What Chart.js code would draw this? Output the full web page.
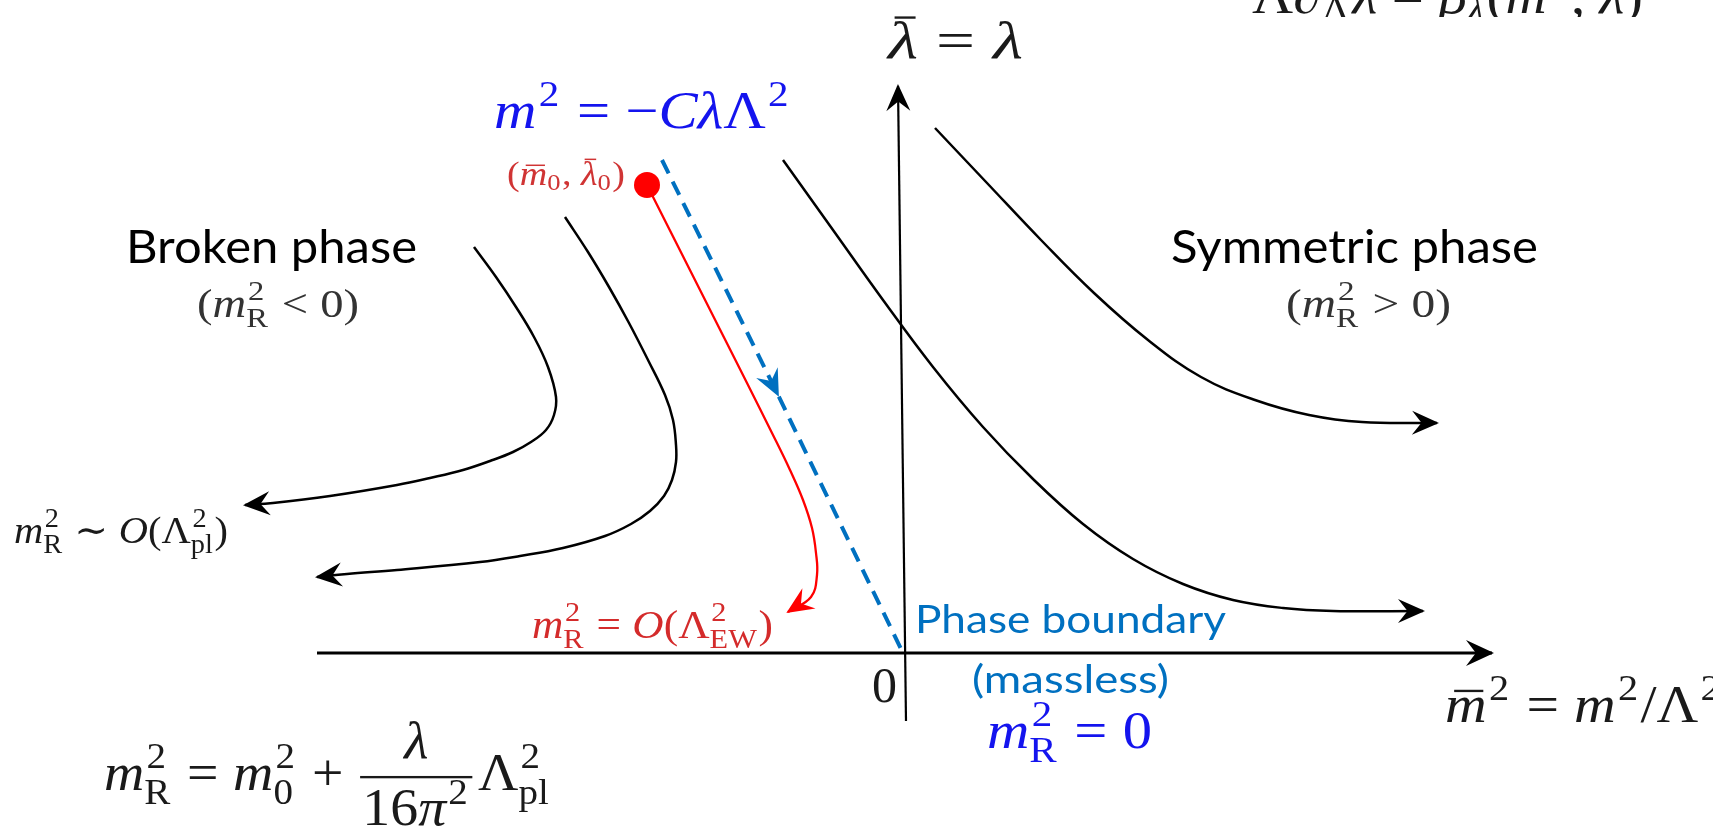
<!DOCTYPE html>
<html lang="en">
<head>
<meta charset="UTF-8">
<title>Phase diagram flow</title>
<script src="https://cdn.jsdelivr.net/npm/chart.js@4"></script>
<style>
  html, body { margin: 0; padding: 0; background: #fff; overflow: hidden; }
</style>
</head>
<body>
<canvas id="c" width="1713" height="826"></canvas>
<script>
// plot window (x = m̄², y = λ̄), origin where the two axes meet
const xRange = [-9.05, 8.08];
const yRange = [-1.73, 6.53];

// axes
const hAxis = [{x: -5.88, y: 0}, {x: 5.87, y: 0}];
const vAxis = [{x: 0.01, y: -0.68}, {x: -0.07, y: 5.67}];

// broken phase flows (bend over and run off to the left)
const flowA = [
  {x: -4.31, y: 4.06}, {x: -4.09, y: 3.76}, {x: -3.89, y: 3.46}, {x: -3.71, y: 3.16},
  {x: -3.57, y: 2.86}, {x: -3.49, y: 2.56}, {x: -3.51, y: 2.38}, {x: -3.59, y: 2.23},
  {x: -3.74, y: 2.11}, {x: -3.92, y: 2.01}, {x: -4.15, y: 1.92}, {x: -4.42, y: 1.83},
  {x: -4.75, y: 1.75}, {x: -5.08, y: 1.68}, {x: -5.75, y: 1.57}, {x: -6.32, y: 1.50},
  {x: -6.60, y: 1.48}
];
const flowB = [
  {x: -3.40, y: 4.36}, {x: -3.17, y: 4.01}, {x: -2.96, y: 3.66}, {x: -2.76, y: 3.30},
  {x: -2.57, y: 2.93}, {x: -2.40, y: 2.58}, {x: -2.32, y: 2.33}, {x: -2.29, y: 2.08},
  {x: -2.29, y: 1.91}, {x: -2.33, y: 1.73}, {x: -2.41, y: 1.57}, {x: -2.55, y: 1.42},
  {x: -2.74, y: 1.29}, {x: -3.00, y: 1.17}, {x: -3.42, y: 1.05}, {x: -3.85, y: 0.97},
  {x: -4.25, y: 0.91}, {x: -5.08, y: 0.83}, {x: -5.58, y: 0.79}, {x: -5.88, y: 0.76}
];

// symmetric phase flows (run off to the right)
const flowC = [
  {x: -1.22, y: 4.93}, {x: -0.72, y: 4.23}, {x: -0.22, y: 3.53}, {x: 0.28, y: 2.86},
  {x: 0.78, y: 2.26}, {x: 1.28, y: 1.74}, {x: 1.78, y: 1.29}, {x: 2.28, y: 0.94},
  {x: 2.78, y: 0.69}, {x: 3.28, y: 0.53}, {x: 3.78, y: 0.45}, {x: 4.28, y: 0.42},
  {x: 5.18, y: 0.42}
];
const flowD = [
  {x: 0.30, y: 5.25}, {x: 0.82, y: 4.70}, {x: 1.36, y: 4.13}, {x: 1.89, y: 3.60},
  {x: 2.43, y: 3.13}, {x: 2.96, y: 2.76}, {x: 3.50, y: 2.53}, {x: 4.04, y: 2.38},
  {x: 4.57, y: 2.31}, {x: 5.32, y: 2.30}
];

// tuned trajectory from the bare point to the EW scale
const startPoint = [{x: -2.58, y: 4.68}];
const tunedFlow = [
  {x: -2.58, y: 4.68}, {x: -2.33, y: 4.185}, {x: -2.08, y: 3.69}, {x: -1.83, y: 3.195},
  {x: -1.58, y: 2.70}, {x: -1.33, y: 2.20}, {x: -1.15, y: 1.83}, {x: -1.02, y: 1.53},
  {x: -0.93, y: 1.25}, {x: -0.89, y: 1.00}, {x: -0.88, y: 0.78}, {x: -0.94, y: 0.56},
  {x: -1.17, y: 0.41}
];

// m² = -CλΛ² line down to the phase boundary (arrow on the middle point)
const criticalLine = [{x: -2.43, y: 4.93}, {x: -1.27, y: 2.58}, {x: -0.02, y: 0.0}];

// ---- math text helpers ----
const MATH = '"Liberation Serif", "DejaVu Serif", serif';
const SANS = 'Lato, "Open Sans", sans-serif';
const I = (t, o) => Object.assign({t: t, it: true}, o);
const R = (t, o) => Object.assign({t: t}, o);
const O = t => ({t: t, op: true});
const S = (sup, sub, subIt) => ({sup: sup, sub: sub, subIt: subIt});
const F = (num, den) => ({num: num, den: den});

const lamEq = [I('λ', {bar: 0.8}), O('='), I('λ')];
const cLine = [I('m'), S('2'), O('='), R('−'), I('C'), I('λ'), R('Λ'), S('2')];
const bare = [R('('), I('m', {bar: 0.62}), S(null, '0'), R(','), R(' '), I('λ', {bar: 0.8}), S(null, '0'), R(')')];
const brokenCond = [R('('), I('m'), S('2', 'R'), O('<'), R('0'), R(')')];
const symCond = [R('('), I('m'), S('2', 'R'), O('>'), R('0'), R(')')];
const planck = [I('m'), S('2', 'R'), O('∼'), I('O'), R('('), R('Λ'), S('2', 'pl'), R(')')];
const ewScale = [I('m'), S('2', 'R'), O('='), I('O'), R('('), R('Λ'), S('2', 'EW'), R(')')];
const renorm = [I('m'), S('2', 'R'), O('='), I('m'), S('2', '0'), O('+'),
  F([I('λ')], [R('16'), I('π'), S('2')]), R('Λ'), S('2', 'pl')];
const massless = [I('m'), S('2', 'R'), O('='), R('0')];
const xLabel = [I('m', {bar: 0.62}), S('2'), O('='), I('m'), S('2'), R('/'), R('Λ'), S('2')];
const betaEq = [R('Λ'), I('∂'), S(null, 'Λ'), I('λ', {bar: 0.8}), O('='), I('β'), S(null, 'λ', true),
  R('('), I('m', {bar: 0.62}), S('2'), R(','), R(' '), I('λ', {bar: 0.8}), R(')')];

const INK = '#1a1a1a';
const BLUE = '#1414ee';
const notes = [
  {m: betaEq, x: 3.47, y: 6.40, size: 52, color: INK, w: 3.91, clipY: 6.36},
  {m: lamEq, x: -0.17, y: 5.95, size: 52, color: INK, w: 1.35},
  {m: cLine, x: -4.11, y: 5.25, size: 52, color: BLUE, w: 2.97},
  {m: bare, x: -3.98, y: 4.68, size: 33, color: '#d03434', w: 1.18},
  {text: 'Broken phase', x: -7.79, y: 3.90, size: 46, color: '#000', w: 2.91},
  {m: brokenCond, x: -7.08, y: 3.36, size: 40, color: '#333', w: 1.62},
  {text: 'Symmetric phase', x: 2.66, y: 3.90, size: 46, color: '#000', w: 3.67},
  {m: symCond, x: 3.81, y: 3.36, size: 40, color: '#333', w: 1.65},
  {m: planck, x: -8.91, y: 1.10, size: 38, color: INK, w: 2.14},
  {m: ewScale, x: -3.73, y: 0.15, size: 40, color: '#d42b2b', w: 2.41},
  {m: renorm, x: -8.01, y: -1.37, size: 52, color: INK, w: 4.47},
  {m: [R('0')], x: -0.33, y: -0.49, size: 50, color: INK},
  {text: 'Phase boundary', x: 1.655, y: 0.20, size: 39, color: '#0070C0', w: 3.11, center: true},
  {text: '(massless)', x: 1.655, y: -0.40, size: 39, color: '#0070C0', w: 1.97, center: true},
  {m: massless, x: 0.82, y: -0.95, size: 52, color: BLUE, w: 1.65},
  {m: xLabel, x: 5.40, y: -0.69, size: 52, color: INK, w: 2.78}
];

function mfont(size, italic) {
  return (italic ? 'italic ' : '') + size + 'px ' + MATH;
}

// lays out (and optionally draws) a token list; returns its width
function runMath(ctx, toks, x, y, s, draw) {
  let cx = x;
  for (const k of toks) {
    if (k.num) {
      const nw = runMath(ctx, k.num, 0, 0, s, false);
      const dw = runMath(ctx, k.den, 0, 0, s, false);
      const w = Math.max(nw, dw) + 0.16 * s;
      if (draw) {
        const ay = y - 0.25 * s;
        runMath(ctx, k.num, cx + (w - nw) / 2, ay - 0.36 * s, s, true);
        runMath(ctx, k.den, cx + (w - dw) / 2, ay + 0.93 * s, s, true);
        ctx.fillRect(cx + 0.04 * s, ay - 0.02 * s, w - 0.08 * s, 0.045 * s);
      }
      cx += w + 0.06 * s;
      continue;
    }
    if (k.sup != null || k.sub != null) {
      const ss = 0.7 * s;
      let w1 = 0, w2 = 0;
      if (k.sup != null) {
        ctx.font = mfont(ss, false);
        w1 = ctx.measureText(k.sup).width + 0.04 * s;
        if (draw) ctx.fillText(k.sup, cx + 0.04 * s, y - 0.42 * s);
      }
      if (k.sub != null) {
        ctx.font = mfont(ss, !!k.subIt);
        w2 = ctx.measureText(k.sub).width;
        if (draw) ctx.fillText(k.sub, cx, y + (k.sup != null ? 0.26 : 0.16) * s);
      }
      cx += Math.max(w1, w2) + 0.04 * s;
      continue;
    }
    ctx.font = mfont(s, !!k.it);
    const pad = k.op ? 0.26 * s : 0;
    const w = ctx.measureText(k.t).width;
    if (draw) {
      ctx.fillText(k.t, cx + pad, y);
      if (k.bar) ctx.fillRect(cx + pad + 0.22 * w, y - k.bar * s, 0.7 * w, 0.045 * s);
    }
    cx += w + 2 * pad;
  }
  return cx - x;
}

function stealth(ctx, x, y, ang, L, W, color) {
  ctx.save();
  ctx.translate(x, y);
  ctx.rotate(ang);
  ctx.beginPath();
  ctx.moveTo(2, 0);
  ctx.lineTo(-L, -W);
  ctx.lineTo(-0.62 * L, 0);
  ctx.lineTo(-L, W);
  ctx.closePath();
  ctx.fillStyle = color;
  ctx.fill();
  ctx.restore();
}

const arrowPlugin = {
  id: 'arrows',
  afterDatasetsDraw(chart) {
    const ctx = chart.ctx;
    chart.data.datasets.forEach((ds, i) => {
      if (!ds.arrowAt) return;
      const pts = chart.getDatasetMeta(i).data;
      ds.arrowAt.forEach(idx => {
        const p = pts[idx], q = pts[idx - 1];
        const ang = Math.atan2(p.y - q.y, p.x - q.x);
        stealth(ctx, p.x, p.y, ang, ds.arrowLen || 25, ds.arrowHalf || 12, ds.borderColor);
      });
    });
  }
};

const notePlugin = {
  id: 'notes',
  afterDraw(chart) {
    const ctx = chart.ctx;
    const xs = chart.scales.x, ys = chart.scales.y;
    notes.forEach(n => {
      let px = xs.getPixelForValue(n.x);
      const py = ys.getPixelForValue(n.y);
      ctx.save();
      if (n.clipY != null) {
        ctx.beginPath();
        ctx.rect(0, 0, chart.width, ys.getPixelForValue(n.clipY));
        ctx.clip();
      }
      ctx.fillStyle = n.color;
      ctx.textBaseline = 'alphabetic';
      ctx.textAlign = 'left';
      let nat;
      if (n.text) {
        ctx.font = n.size + 'px ' + SANS;
        nat = ctx.measureText(n.text).width;
      } else {
        nat = runMath(ctx, n.m, 0, 0, n.size, false);
      }
      const target = n.w ? Math.abs(xs.getPixelForValue(n.x + n.w) - px) : nat;
      if (n.center) px -= target / 2;
      ctx.translate(px, py);
      ctx.scale(target / nat, 1);
      if (n.text) {
        ctx.font = n.size + 'px ' + SANS;
        ctx.fillText(n.text, 0, 0);
      } else {
        runMath(ctx, n.m, 0, 0, n.size, true);
      }
      ctx.restore();
    });
  }
};

const curve = (data, extra) => Object.assign({
  data: data,
  showLine: true,
  borderColor: '#000',
  borderWidth: 2.5,
  tension: 0.4,
  pointRadius: 0,
  fill: false,
  arrowAt: [data.length - 1]
}, extra);

new Chart(document.getElementById('c'), {
  type: 'scatter',
  data: {
    datasets: [
      {data: startPoint, pointRadius: 13, pointBackgroundColor: '#ff0000', pointBorderWidth: 0, showLine: false},
      curve(tunedFlow, {borderColor: '#ff0000', borderWidth: 2.3}),
      curve(criticalLine, {borderColor: '#0070C0', borderWidth: 4, borderDash: [15, 9], tension: 0, arrowAt: [1]}),
      curve(flowA),
      curve(flowB),
      curve(flowC),
      curve(flowD),
      curve(hAxis, {borderWidth: 3, tension: 0, arrowLen: 26, arrowHalf: 13}),
      curve(vAxis, {borderWidth: 2.2, tension: 0, arrowLen: 25, arrowHalf: 12})
    ]
  },
  options: {
    responsive: false,
    animation: false,
    devicePixelRatio: 1,
    layout: {padding: 0, autoPadding: false},
    plugins: {legend: {display: false}, tooltip: {enabled: false}},
    scales: {
      x: {type: 'linear', display: false, min: xRange[0], max: xRange[1]},
      y: {type: 'linear', display: false, min: yRange[0], max: yRange[1]}
    }
  },
  plugins: [arrowPlugin, notePlugin]
});
</script>
</body>
</html>
